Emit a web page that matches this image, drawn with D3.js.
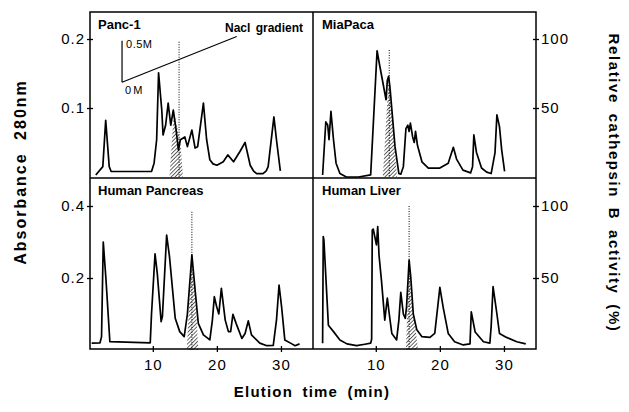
<!DOCTYPE html>
<html>
<head>
<meta charset="utf-8">
<script src="https://cdn.jsdelivr.net/npm/d3@7"></script>
<style>
  body { margin: 0; background: #fff; }
  svg { display: block; font-family: "Liberation Sans", Arial, sans-serif; }
</style>
</head>
<body>
<svg id="chart" width="629" height="412"></svg>
<script>
// panel names, left-to-right, top-to-bottom
const panelNames = ["Panc-1", "MiaPaca", "Human Pancreas", "Human Liver"];

// absorbance 280 nm traces
const pancTime = [1.1, 2.2, 2.65, 3.2, 3.5, 9.8, 10.2, 10.6, 10.9, 11.4, 11.6, 12.0, 12.4, 12.8, 13.2, 13.6, 14.0, 14.3, 15.0, 15.4, 16.1, 16.6, 17.0, 17.9, 18.4, 18.9, 19.4, 20.0, 21.0, 21.7, 22.6, 23.6, 24.4, 25.2, 25.7, 26.2, 27.2, 27.7, 28.0, 28.9, 29.3, 29.9];
const pancAbs  = [0.003, 0.015, 0.082, 0.015, 0.008, 0.008, 0.02, 0.054, 0.151, 0.097, 0.061, 0.075, 0.107, 0.075, 0.097, 0.071, 0.039, 0.054, 0.058, 0.044, 0.068, 0.042, 0.044, 0.107, 0.054, 0.025, 0.019, 0.017, 0.022, 0.032, 0.022, 0.037, 0.05, 0.017, 0.009, 0.005, 0.005, 0.009, 0.015, 0.087, 0.054, 0.009];

const miaTime = [1.7, 2.2, 2.5, 2.7, 3.0, 3.4, 3.8, 4.4, 5.4, 7.3, 9.2, 10.2, 10.5, 11.6, 11.8, 12.0, 12.2, 13.0, 13.6, 13.9, 14.3, 14.7, 15.0, 15.2, 15.4, 15.75, 16.0, 16.2, 16.5, 17.2, 18.2, 20.0, 21.3, 22.1, 22.6, 23.6, 24.8, 25.1, 25.3, 25.7, 26.5, 27.3, 28.0, 28.6, 28.9, 29.3, 29.65, 30.1];
const miaAbs  = [0.003, 0.08, 0.075, 0.054, 0.095, 0.054, 0.02, 0.005, 0.0, 0.0, 0.003, 0.183, 0.167, 0.112, 0.14, 0.146, 0.131, 0.044, 0.005, 0.004, 0.015, 0.07, 0.075, 0.066, 0.078, 0.058, 0.05, 0.066, 0.046, 0.022, 0.013, 0.013, 0.02, 0.043, 0.026, 0.01, 0.006, 0.015, 0.061, 0.036, 0.013, 0.007, 0.005, 0.035, 0.09, 0.073, 0.039, 0.008];

const hpTime = [0.46, 1.76, 2.0, 2.27, 2.7, 3.3, 9.6, 9.8, 10.35, 10.7, 11.3, 11.5, 12.16, 12.6, 13.5, 14.2, 14.9, 15.4, 16.1, 16.6, 17.1, 17.9, 18.9, 19.3, 19.6, 19.97, 20.3, 20.7, 21.3, 21.8, 22.15, 22.5, 23.0, 23.9, 24.4, 24.9, 25.4, 26.7, 27.8, 28.8, 29.3, 29.7, 30.1, 30.6, 31.7, 32.2, 32.9];
const hpAbs  = [0.019, 0.02, 0.037, 0.30, 0.194, 0.023, 0.02, 0.10, 0.267, 0.213, 0.079, 0.093, 0.319, 0.26, 0.088, 0.051, 0.037, 0.10, 0.264, 0.167, 0.074, 0.042, 0.028, 0.083, 0.148, 0.12, 0.10, 0.171, 0.083, 0.051, 0.051, 0.099, 0.074, 0.032, 0.046, 0.081, 0.042, 0.019, 0.012, 0.013, 0.083, 0.18, 0.12, 0.028, 0.017, 0.012, 0.017];

const hlTime = [1.7, 1.8, 1.9, 2.6, 3.4, 4.4, 5.5, 7.0, 8.3, 9.2, 9.35, 9.45, 9.6, 10.1, 10.3, 10.5, 10.9, 11.4, 11.8, 12.1, 12.5, 13.25, 13.6, 13.9, 14.3, 14.6, 14.8, 15.2, 15.45, 15.85, 16.4, 17.2, 18.45, 19.2, 20.0, 20.5, 21.3, 22.3, 23.65, 24.7, 24.9, 25.5, 26.8, 27.8, 28.0, 28.3, 28.9, 29.3, 30.4, 32.0, 33.4];
const hlAbs  = [0.019, 0.315, 0.306, 0.069, 0.051, 0.028, 0.017, 0.012, 0.016, 0.019, 0.03, 0.333, 0.336, 0.292, 0.343, 0.264, 0.19, 0.083, 0.144, 0.10, 0.046, 0.028, 0.083, 0.16, 0.10, 0.088, 0.12, 0.25, 0.204, 0.10, 0.056, 0.037, 0.035, 0.046, 0.174, 0.12, 0.046, 0.023, 0.014, 0.017, 0.106, 0.05, 0.023, 0.019, 0.065, 0.176, 0.10, 0.046, 0.035, 0.023, 0.017];

// relative cathepsin B activity (%), hatched peaks
const pancActTime = [12.6, 13.3, 13.7, 14.1, 14.4, 14.7];
const pancAct     = [0, 48, 38, 30, 20, 0];
const miaActTime  = [11.1, 12.0, 12.2, 12.6, 13.0, 13.3];
const miaAct      = [0, 72, 65, 42, 20, 0];
const hpActTime   = [15.3, 16.05, 16.6, 17.1];
const hpAct       = [0, 64, 40, 0];
const hlActTime   = [14.7, 15.2, 15.6, 16.0, 16.6];
const hlAct       = [0, 62, 38, 22, 0];

// dotted marker lines (time, top in %)
const markTime = [14.1, 12.1, 16.1, 15.2];
const markTop  = [98, 92, 96, 100];

// NaCl gradient (Panc-1 panel only): time vs molarity
const gradTime = [5.2, 23.1];
const gradM    = [0, 0.55];

// axis ticks
const xTicks = [10, 20, 30];
const absTicksTop = [0.1, 0.2];
const absTicksBottom = [0.2, 0.4];
const actTicks = [50, 100];

const svg = d3.select("#chart");

const colX = [90, 313];
const colW = 223;
const rowTop = [12, 178];

const x = colX.map(x0 => d3.scaleLinear().domain([0.2, 35]).range([x0, x0 + colW]));
const yAbs = [
  d3.scaleLinear().domain([0, 0.2]).range([177, 39]),
  d3.scaleLinear().domain([0, 0.4]).range([350, 206])
];
const yAct = [
  d3.scaleLinear().domain([0, 100]).range([177, 39]),
  d3.scaleLinear().domain([0, 100]).range([350, 206])
];

const defs = svg.append("defs");
defs.append("pattern")
  .attr("id", "hatch")
  .attr("patternUnits", "userSpaceOnUse")
  .attr("width", 2.7).attr("height", 2.7)
  .attr("patternTransform", "rotate(45)")
  .append("line")
  .attr("x1", 0).attr("y1", 0).attr("x2", 0).attr("y2", 2.7)
  .attr("stroke", "#000").attr("stroke-width", 1.2);

const traces = [
  [pancTime, pancAbs], [miaTime, miaAbs], [hpTime, hpAbs], [hlTime, hlAbs]
];
const acts = [
  [pancActTime, pancAct], [miaActTime, miaAct], [hpActTime, hpAct], [hlActTime, hlAct]
];

panelNames.forEach((name, i) => {
  const col = i % 2, row = Math.floor(i / 2);
  const xs = x[col], ya = yAbs[row], yc = yAct[row];
  const g = svg.append("g");

  // hatched cathepsin B activity
  const [at, av] = acts[i];
  const area = d3.area()
    .x((d, k) => xs(at[k]))
    .y0(yc(0))
    .y1((d, k) => yc(av[k]));
  g.append("path")
    .datum(at)
    .attr("d", area)
    .attr("fill", "url(#hatch)");

  // dotted marker
  g.append("line")
    .attr("x1", xs(markTime[i])).attr("x2", xs(markTime[i]))
    .attr("y1", yc(markTop[i])).attr("y2", yc(0))
    .attr("stroke", "#000")
    .attr("stroke-width", 1)
    .attr("stroke-dasharray", "1,1.5");

  // absorbance trace
  const [tt, tv] = traces[i];
  const line = d3.line()
    .x((d, k) => xs(tt[k]))
    .y((d, k) => ya(tv[k]));
  g.append("path")
    .datum(tt)
    .attr("d", line)
    .attr("fill", "none")
    .attr("stroke", "#000")
    .attr("stroke-width", 1.7)
    .attr("stroke-linejoin", "round");

  g.append("text")
    .attr("x", xs.range()[0] + (col === 0 ? 8 : 9))
    .attr("y", rowTop[row] + 17)
    .attr("font-size", 13)
    .attr("font-weight", "bold")
    .text(name);
});

// NaCl gradient inset in Panc-1
const yNaCl = d3.scaleLinear().domain([0, 0.5]).range([82.3, 40.7]);
svg.append("line")
  .attr("x1", x[0](gradTime[0])).attr("x2", x[0](gradTime[0]))
  .attr("y1", yNaCl(0)).attr("y2", yNaCl(0.5))
  .attr("stroke", "#000").attr("stroke-width", 1.2);
svg.append("path")
  .datum(gradTime)
  .attr("d", d3.line().x((d, k) => x[0](gradTime[k])).y((d, k) => yNaCl(gradM[k])))
  .attr("fill", "none").attr("stroke", "#000").attr("stroke-width", 1.1);
svg.append("text")
  .attr("x", x[0](gradTime[0]) + 4).attr("y", yNaCl(0.5) + 7)
  .attr("font-size", 11).attr("letter-spacing", 0.5).text("0.5M");
svg.append("text")
  .attr("x", x[0](gradTime[0]) + 3).attr("y", yNaCl(0) + 12)
  .attr("font-size", 11).attr("letter-spacing", 2).text("0M");
svg.append("text")
  .attr("x", 225).attr("y", 32)
  .attr("font-size", 12).attr("font-weight", "bold")
  .attr("word-spacing", 2)
  .text("Nacl gradient");

// frame
const frame = svg.append("g").attr("stroke", "#000").attr("stroke-width", 1.5).attr("fill", "none");
frame.append("rect").attr("x", 90).attr("y", 12).attr("width", 446).attr("height", 337);
frame.append("line").attr("x1", 313).attr("x2", 313).attr("y1", 12).attr("y2", 349);
frame.append("line").attr("x1", 90).attr("x2", 536).attr("y1", 178).attr("y2", 178);

// axes: ticks cross the frame line
function styleAxis(g, cross) {
  g.select(".domain").remove();
  g.selectAll(".tick line").attr("stroke", "#000").attr("stroke-width", 1.3).attr("x1", cross);
  g.selectAll(".tick text")
    .attr("fill", "#000")
    .attr("font-size", 15)
    .attr("letter-spacing", 1)
    .attr("font-family", "'Liberation Sans', Arial, sans-serif");
}

[absTicksTop, absTicksBottom].forEach((ticks, row) => {
  svg.append("g")
    .attr("transform", "translate(90,0)")
    .call(d3.axisLeft(yAbs[row]).tickValues(ticks).tickFormat(d3.format(".1f")).tickSizeInner(3).tickSizeOuter(0).tickPadding(2))
    .call(g => styleAxis(g, 3));
  svg.append("g")
    .attr("transform", "translate(536,0)")
    .call(d3.axisRight(yAct[row]).tickValues(actTicks).tickSizeInner(3).tickSizeOuter(0).tickPadding(2))
    .call(g => styleAxis(g, -3));
});

x.forEach(xs => {
  svg.append("g")
    .attr("transform", "translate(0,349)")
    .call(d3.axisBottom(xs).tickValues(xTicks).tickSizeInner(3).tickSizeOuter(0).tickPadding(7))
    .call(g => {
      g.select(".domain").remove();
      g.selectAll(".tick line").attr("stroke", "#000").attr("stroke-width", 1.3).attr("y1", -3);
      g.selectAll(".tick text")
        .attr("fill", "#000").attr("font-size", 15).attr("letter-spacing", 1)
        .attr("font-family", "'Liberation Sans', Arial, sans-serif");
    });
});

// axis titles
svg.append("text")
  .attr("transform", "translate(26,172) rotate(-90)")
  .attr("text-anchor", "middle")
  .attr("font-size", 16).attr("font-weight", "bold")
  .attr("letter-spacing", 2).attr("word-spacing", 6)
  .text("Absorbance 280nm");

svg.append("text")
  .attr("transform", "translate(609,183) rotate(90)")
  .attr("text-anchor", "middle")
  .attr("font-size", 15).attr("font-weight", "bold")
  .attr("letter-spacing", 1.6).attr("word-spacing", 4)
  .text("Relative cathepsin B activity (%)");

svg.append("text")
  .attr("x", 312).attr("y", 397)
  .attr("text-anchor", "middle")
  .attr("font-size", 15).attr("font-weight", "bold")
  .attr("letter-spacing", 1.2).attr("word-spacing", 4)
  .text("Elution time (min)");
</script>
</body>
</html>
